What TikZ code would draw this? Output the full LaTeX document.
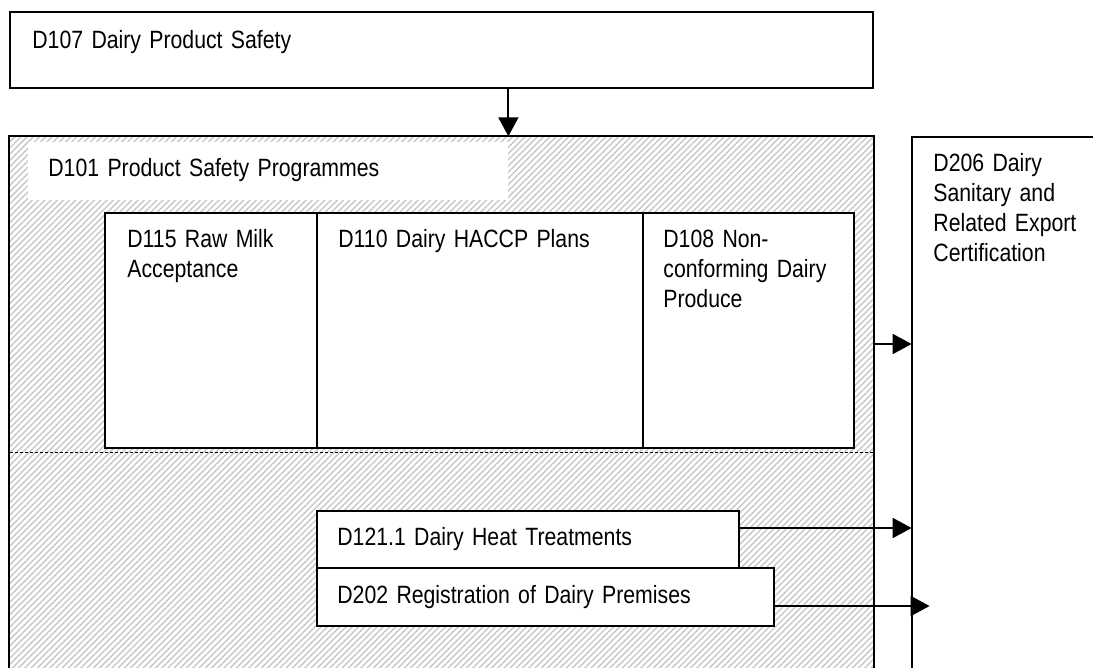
\documentclass[tikz,border=0pt]{standalone}
\usepackage{fontspec}
\setmainfont[FakeStretch=0.85, WordSpace=0.7]{Liberation Sans}
\usetikzlibrary{positioning,fit,calc,arrows.meta,patterns.meta}

\begin{document}
\begin{tikzpicture}[x=0.5pt, y=-0.5pt, >={Triangle[length=9.5pt,width=10pt]},
  every node/.style={font=\fontsize{12.5pt}{15pt}\selectfont},
  box/.style={draw, line width=1pt, fill=white, inner sep=0pt},
  area/.style={inner sep=0pt},
  hatch/.style={pattern={Lines[angle=45,distance=2.2pt,line width=0.7pt]}, pattern color=black!22},
  lbl/.style={anchor=base west, inner sep=0pt, align=left, text width=10cm},
  arr/.style={->, line width=1pt},
  edge/.style={line width=1pt},
  split/.style={line width=0.5pt, dash pattern=on 1.5pt off 1pt}]
  \useasboundingbox (0,0) rectangle (1093,668);

  % Top programme
  \node[box, fit={(10,12) (873,88)}] (safety) {};

  % Hatched programme area, open at the bottom
  \node[area, hatch, fit={(10,137) (873,668)}] (prog) {};
  \draw[edge] (prog.south west) -- (prog.north west) -- (prog.north east) -- (prog.south east);
  \node[area, fill=white, fit={(28,142) (508,200)}] (progtitle) {};
  \coordinate (cut) at (10,452);
  \draw[split] (cut) -- (cut -| prog.east);

  % Inner programmes
  \node[box, fit={(105,213) (317,448)}] (rawmilk) {};
  \node[box, fit={(317,213) (643,448)}] (haccp) {};
  \node[box, fit={(643,213) (854,448)}] (nonconf) {};
  \node[box, fit={(317,511) (739,568)}] (heat) {};
  \node[box, fit={(317,568) (774,626)}] (premises) {};

  % Export certification, open at right and bottom
  \node[area, fit={(912,137) (1093,668)}] (cert) {};
  \draw[edge] (cert.south west) -- (cert.north west) -- (cert.north east);

  % Labels
  \node[lbl] (safetytext) at (32,49) {D107 Dairy Product Safety};
  \node[lbl] (progtext) at (48,177) {D101 Product Safety Programmes};
  \node[lbl] (rawmilktext) at (127,248) {D115 Raw Milk\\Acceptance};
  \node[lbl] (haccptext) at (338,248) {D110 Dairy HACCP Plans};
  \node[lbl] (nonconftext) at (663,248) {D108 Non-\\conforming Dairy\\Produce};
  \node[lbl] (certtext) at (933,172) {D206 Dairy\\Sanitary and\\Related Export\\Certification};
  \node[lbl] (heattext) at (337,545) {D121.1 Dairy Heat Treatments};
  \node[lbl] (premisestext) at (337,603) {D202 Registration of Dairy Premises};

  % Arrows
  \draw[arr] (safety.south -| progtitle.east) -- (prog.north -| progtitle.east);
  \coordinate (out1) at (873,344);
  \draw[arr] (out1) -- (out1 -| cert.west);
  \coordinate (out2) at ($(heat.north east)+(0,18)$);
  \draw[arr] (out2) -- (out2 -| cert.west);
  \coordinate (out3) at ($(premises.north east)+(0,39)$);
  \draw[arr, shorten >=-9pt] (out3) -- (out3 -| cert.west);
\end{tikzpicture}
\end{document}
